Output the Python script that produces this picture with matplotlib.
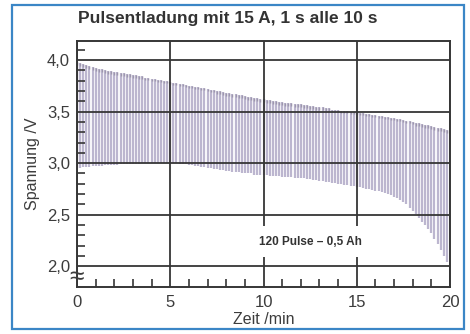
import numpy as np
import matplotlib.pyplot as plt
from matplotlib.patches import Rectangle
from matplotlib.ticker import FixedLocator

plt.rcParams['font.family'] = ['Liberation Sans', 'DejaVu Sans']

# 120 pulses, one every 10 s (time in min)
pulse_index = np.arange(120)

# rest voltage before each pulse (upper end of each line), V
v_rest = [
    3.98, 3.97, 3.96, 3.95, 3.94, 3.93,
    3.92, 3.91, 3.91, 3.90, 3.89, 3.89,
    3.88, 3.88, 3.87, 3.87, 3.86, 3.86,
    3.85, 3.85, 3.84, 3.84, 3.83, 3.83,
    3.82, 3.82, 3.81, 3.81, 3.80, 3.80,
    3.79, 3.78, 3.78, 3.77, 3.77, 3.76,
    3.75, 3.75, 3.74, 3.74, 3.73, 3.73,
    3.72, 3.71, 3.71, 3.70, 3.70, 3.69,
    3.68, 3.68, 3.67, 3.67, 3.66, 3.66,
    3.65, 3.64, 3.64, 3.63, 3.63, 3.62,
    3.62, 3.61, 3.61, 3.60, 3.60, 3.59,
    3.59, 3.58, 3.58, 3.58, 3.57, 3.57,
    3.57, 3.56, 3.56, 3.55, 3.55, 3.54,
    3.54, 3.54, 3.53, 3.53, 3.52, 3.52,
    3.52, 3.51, 3.51, 3.51, 3.50, 3.50,
    3.50, 3.49, 3.49, 3.48, 3.48, 3.47,
    3.47, 3.46, 3.46, 3.45, 3.45, 3.44,
    3.44, 3.43, 3.43, 3.42, 3.41, 3.41,
    3.40, 3.39, 3.39, 3.38, 3.37, 3.37,
    3.36, 3.35, 3.34, 3.34, 3.33, 3.32,
]

# voltage at end of each 15 A pulse (lower end), V
v_pulse = [
    2.95, 2.95, 2.96, 2.96, 2.96, 2.97,
    2.97, 2.97, 2.97, 2.98, 2.98, 2.98,
    2.98, 2.98, 2.99, 2.99, 2.99, 2.99,
    2.99, 2.99, 2.99, 3.00, 3.00, 3.00,
    3.00, 3.00, 3.00, 3.00, 3.00, 3.00,
    3.00, 3.00, 3.00, 2.99, 2.99, 2.99,
    2.98, 2.98, 2.97, 2.97, 2.96, 2.96,
    2.95, 2.95, 2.94, 2.94, 2.93, 2.93,
    2.92, 2.92, 2.91, 2.91, 2.91, 2.90,
    2.90, 2.90, 2.90, 2.89, 2.89, 2.89,
    2.89, 2.89, 2.88, 2.88, 2.88, 2.88,
    2.87, 2.87, 2.87, 2.87, 2.86, 2.86,
    2.86, 2.86, 2.85, 2.85, 2.84, 2.84,
    2.83, 2.83, 2.82, 2.82, 2.81, 2.81,
    2.80, 2.80, 2.79, 2.79, 2.78, 2.78,
    2.77, 2.77, 2.76, 2.75, 2.75, 2.74,
    2.73, 2.73, 2.72, 2.71, 2.70, 2.69,
    2.67, 2.66, 2.64, 2.62, 2.60, 2.57,
    2.54, 2.51, 2.47, 2.43, 2.40, 2.36,
    2.32, 2.27, 2.22, 2.16, 2.10, 2.04,
]

x_ticks = [0, 5, 10, 15, 20]
y_ticks = [2.0, 2.5, 3.0, 3.5, 4.0]
y_ticklabels = ['2,0', '2,5', '3,0', '3,5', '4,0']

GRID = '#363636'
TXT = '#3c3c3c'

t_min = pulse_index * 10 / 60

fig = plt.figure(figsize=(4.7, 3.34), dpi=100)
fig.patches.append(Rectangle((12 / 470, 5 / 334), 452 / 470, 324 / 334,
                             transform=fig.transFigure, fill=False,
                             edgecolor='#3b86c6', linewidth=1.6))

ax = fig.add_axes([77 / 470, 1 - 287 / 334, 373 / 470, 246 / 334])
ax.vlines(t_min, v_pulse, v_rest, color='#bcb6cf', linewidth=1.6, zorder=1)
# slightly darker recovery tips at the top of each pulse line
ax.vlines(t_min, np.array(v_rest) - 0.025, v_rest, color='#9d97ac',
          linewidth=1.0, zorder=1)

ax.set_xlim(0, 20)
ax.set_ylim(1.8, 4.184)
ax.set_xticks(x_ticks)
ax.set_yticks(y_ticks)
ax.set_yticklabels(y_ticklabels)
ax.xaxis.set_minor_locator(FixedLocator([m for m in range(1, 20) if m % 5]))
ax.yaxis.set_minor_locator(FixedLocator(
    [round(2.1 + 0.1 * k, 1) for k in range(21) if (k + 1) % 5]))
ax.tick_params(which='major', length=0, labelsize=12, labelcolor=TXT)
ax.tick_params(axis='x', which='major', pad=6)
ax.tick_params(axis='y', which='major', pad=5)
ax.tick_params(which='minor', direction='in', length=6, width=1.2, color=GRID)
ax.grid(True, which='major', color=GRID, linewidth=1.3, zorder=2)
ax.set_axisbelow(False)
for s in ax.spines.values():
    s.set_color(GRID)
    s.set_linewidth(1.4)

ax.set_xlabel('Zeit /min', fontsize=11.5, color=TXT, labelpad=1)
ax.set_ylabel('Spannung /V', fontsize=11.5, color=TXT, labelpad=5)

ax.text(12.5, 2.24, '120 Pulse – 0,5 Ah', fontsize=8.5, fontweight='bold',
        color='#333333', ha='center', va='center', zorder=3,
        bbox=dict(facecolor='white', edgecolor='none', pad=7))
ax.text(0, 1.9, '≈', fontsize=19, color=TXT, ha='center', va='center',
        zorder=4, clip_on=False)

fig.text(228 / 470, 1 - 18 / 334, 'Pulsentladung mit 15 A, 1 s alle 10 s',
         fontsize=12.5, fontweight='bold', color='#333333',
         ha='center', va='center')

fig.savefig('out.png', dpi=100)
